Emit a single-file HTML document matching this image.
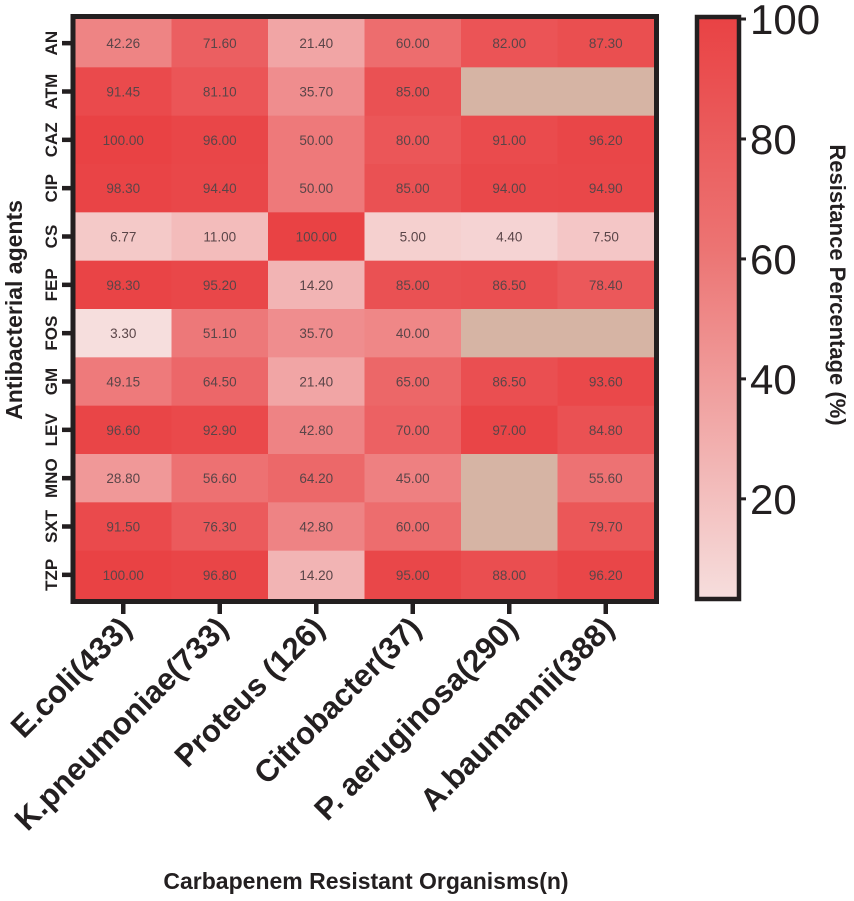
<!DOCTYPE html>
<html><head><meta charset="utf-8"><style>
body{margin:0;background:#fff;width:854px;height:896px;overflow:hidden;font-family:"Liberation Sans",Arial,sans-serif}
</style></head><body>
<svg id="chart" width="854" height="896" viewBox="0 0 854 896" xmlns="http://www.w3.org/2000/svg">
<defs><linearGradient id="cbg" x1="0" y1="1" x2="0" y2="0"><stop offset="0" stop-color="#f6dedd"/><stop offset="0.3" stop-color="#f1a9a8"/><stop offset="0.6" stop-color="#ec7473"/><stop offset="1" stop-color="#e94244"/></linearGradient></defs>
<g id="cells"></g>
<rect x="73" y="16.5" width="583.5" height="585" fill="none" stroke="#231f20" stroke-width="5"/>
<g id="axes"></g>
<rect x="697" y="17" width="42" height="582" fill="url(#cbg)" stroke="#231f20" stroke-width="4.5"/>
<g id="cbticks"></g>
<text transform="translate(22,310) rotate(-90)" text-anchor="middle" font-size="23" font-weight="bold" fill="#231f20">Antibacterial agents</text>
<text x="366" y="889" text-anchor="middle" font-size="23" font-weight="bold" fill="#231f20">Carbapenem Resistant Organisms(n)</text>
<text transform="translate(830,285) rotate(90)" text-anchor="middle" font-size="22" font-weight="bold" fill="#231f20">Resistance Percentage (%)</text>
</svg>
<script>
const organisms=["E.coli(433)","K.pneumoniae(733)","Proteus (126)","Citrobacter(37)","P. aeruginosa(290)","A.baumannii(388)"];
const agents=["AN","ATM","CAZ","CIP","CS","FEP","FOS","GM","LEV","MNO","SXT","TZP"];
const ecoli=[42.26,91.45,100,98.3,6.77,98.3,3.3,49.15,96.6,28.8,91.5,100];
const kpneu=[71.6,81.1,96,94.4,11,95.2,51.1,64.5,92.9,56.6,76.3,96.8];
const proteus=[21.4,35.7,50,50,100,14.2,35.7,21.4,42.8,64.2,42.8,14.2];
const citro=[60,85,80,85,5,85,40,65,70,45,60,95];
const paeru=[82,null,91,94,4.4,86.5,null,86.5,97,null,null,88];
const abau=[87.3,null,96.2,94.9,7.5,78.4,null,93.6,84.8,55.6,79.7,96.2];
const cbTicks=[20,40,60,80,100];
const series=[ecoli,kpneu,proteus,citro,paeru,abau];
const vmin=3.3,vmax=100;
const X0=75,X1=654,Y0=19,Y1=599;
const cw=(X1-X0)/organisms.length,rh=(Y1-Y0)/agents.length;
const xs=i=>X0+i*cw, ys=j=>Y0+j*rh;
const cy=v=>Y1-(v-vmin)/(vmax-vmin)*(Y1-Y0);
const lo=[246,222,221],hi=[233,66,68];
function col(v){let t=Math.max(0,Math.min(1,(v-vmin)/(vmax-vmin)));t=Math.pow(t,0.6);return "rgb("+lo.map((a,k)=>Math.round(a+(hi[k]-a)*t)).join(",")+")";}
const NS="http://www.w3.org/2000/svg";
function mk(tag,attrs,parent){const e=document.createElementNS(NS,tag);for(const k in attrs)e.setAttribute(k,attrs[k]);parent.appendChild(e);return e;}
const cells=document.getElementById('cells'),axes=document.getElementById('axes'),cbt=document.getElementById('cbticks');
series.forEach((s,i)=>{s.forEach((v,j)=>{
 const r=mk('rect',{x:xs(i),y:ys(j),width:cw+0.5,height:rh+0.5,fill:v==null?'#d6b4a4':col(v)},cells);
 
 
 if(v!=null){const t=mk('text',{x:xs(i)+cw/2,y:ys(j)+rh/2+5,'text-anchor':'middle','font-size':'13.5',fill:'#5a4548'},cells);t.textContent=v.toFixed(2);
 
 }
});});
agents.forEach((a,j)=>{const y=ys(j)+rh/2;
 const tk=mk('line',{x1:62,x2:71,y1:y,y2:y,stroke:'#231f20','stroke-width':4.5},axes);
 
 
 const t=mk('text',{transform:'translate(57,'+y+') rotate(-90)','text-anchor':'middle','font-size':'17','font-weight':'bold',fill:'#231f20'},axes);t.textContent=a;
 
 });
organisms.forEach((o,i)=>{const x=xs(i)+cw/2;
 const tk=mk('line',{x1:x,x2:x,y1:604,y2:614,stroke:'#231f20','stroke-width':4.5},axes);
 
 
 const t=mk('text',{transform:'translate('+(x+10)+',630) rotate(-45)','text-anchor':'end','font-size':'31','font-weight':'bold',fill:'#231f20'},axes);t.textContent=o;
 
 });
cbTicks.forEach(v=>{const y=cy(v);
 const tk=mk('line',{x1:739,x2:746,y1:y,y2:y,stroke:'#231f20','stroke-width':3},cbt);
 
 
 const t=mk('text',{x:750,y:y+15,'font-size':'42',fill:'#231f20'},cbt);t.textContent=v;
 
 });
</script>
</body></html>
